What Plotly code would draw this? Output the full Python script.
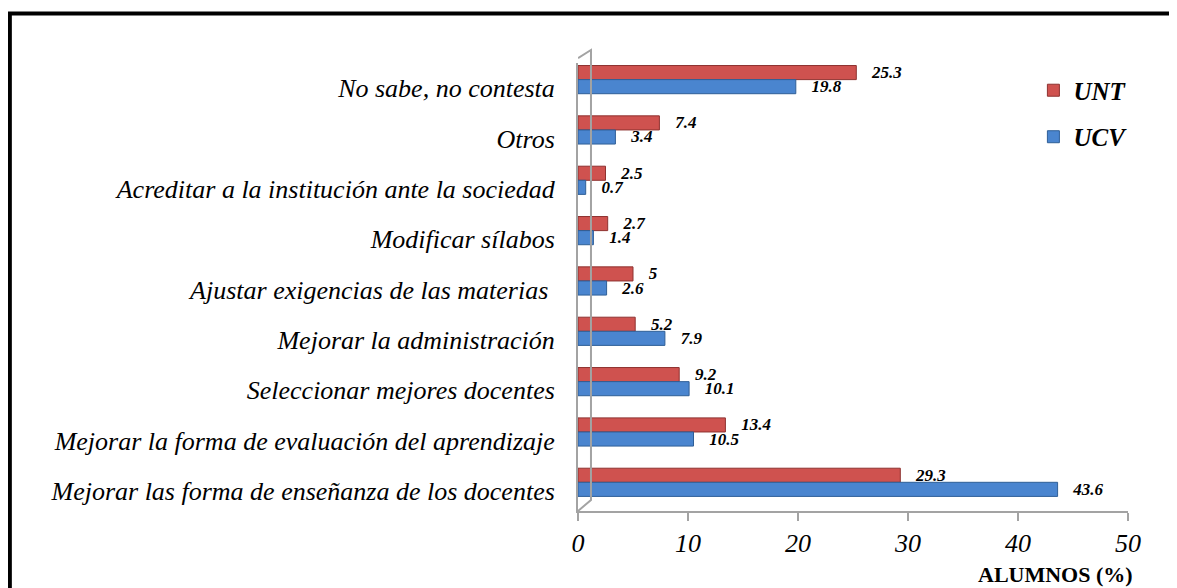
import plotly.graph_objects as go

# categorias de abajo hacia arriba
categorias = [
    "Mejorar las forma de enseñanza de los docentes",
    "Mejorar la forma de evaluación del aprendizaje",
    "Seleccionar mejores docentes",
    "Mejorar la administración",
    "Ajustar exigencias de las materias ",
    "Modificar sílabos",
    "Acreditar a la institución ante la sociedad",
    "Otros",
    "No sabe, no contesta",
]
unt = [29.3, 13.4, 9.2, 5.2, 5, 2.7, 2.5, 7.4, 25.3]
ucv = [43.6, 10.5, 10.1, 7.9, 2.6, 1.4, 0.7, 3.4, 19.8]
x_ticks = [0, 10, 20, 30, 40, 50]

FONT = "Liberation Serif, Times New Roman, serif"
ROJO = "#cf524f"
AZUL = "#4a85cf"
GRIS = "#a3a3a3"

etiqueta = dict(family=FONT, size=17, color="black", weight="bold", style="italic")

fig = go.Figure()
fig.add_trace(go.Bar(
    y=categorias, x=unt, orientation="h", name="UNT",
    legendgroup="unt", offset=0.17, width=0.28,
    marker=dict(color=ROJO, line=dict(color="#8e3230", width=1)),
    texttemplate="\u00a0\u00a0\u00a0%{x}", textposition="outside",
    outsidetextfont=etiqueta, cliponaxis=False,
))
fig.add_trace(go.Bar(
    y=categorias, x=ucv, orientation="h", name="UCV",
    legendgroup="ucv", offset=-0.11, width=0.28,
    marker=dict(color=AZUL, line=dict(color="#2f5f97", width=1)),
    texttemplate="\u00a0\u00a0\u00a0%{x}", textposition="outside",
    outsidetextfont=etiqueta, cliponaxis=False,
))

# pared lateral y borde exterior
shapes = [
    dict(type="path", xref="x", yref="paper",
         path="M 0,1.011 L 1.18,1.029 L 1.18,0.0246 L 0,0",
         line=dict(color=GRIS, width=2)),
    dict(type="rect", xref="paper", yref="paper",
         x0=-1.033, x1=2, y0=-1, y1=1.1105,
         line=dict(color="black", width=4), layer="below"),
]

fig.update_layout(
    width=1177, height=588,
    margin=dict(l=570, r=57, t=55, b=85),
    paper_bgcolor="white", plot_bgcolor="white",
    barmode="overlay",
    font=dict(family=FONT, color="black"),
    shapes=shapes,
    showlegend=True,
    legend=dict(
        x=0.828, y=0.99, xanchor="left", yanchor="top",
        traceorder="grouped", tracegroupgap=11,
        font=dict(family=FONT, size=25, weight="bold", style="italic"),
        bgcolor="rgba(0,0,0,0)",
    ),
    xaxis=dict(
        range=[0, 50], tickvals=x_ticks, showgrid=False, zeroline=False,
        showline=True, linecolor=GRIS, linewidth=2,
        ticks="outside", ticklen=8, tickcolor=GRIS, tickwidth=2,
        tickfont=dict(family=FONT, size=26, style="italic"),
    ),
    yaxis=dict(
        type="category", categoryarray=categorias, range=[-0.4, 8.5],
        showgrid=False, zeroline=False, showline=True,
        linecolor=GRIS, linewidth=2, ticks="",
        ticklabelstandoff=16,
        tickfont=dict(family=FONT, size=26, style="italic"),
    ),
    annotations=[dict(
        text="<b>ALUMNOS (%)</b>", xref="paper", yref="paper",
        x=1, y=0, xshift=7, yshift=-63, xanchor="right", yanchor="middle",
        showarrow=False, font=dict(family=FONT, size=22, color="black"),
    )],
)
fig.update_traces(constraintext="none")

fig.write_html("out.html")
